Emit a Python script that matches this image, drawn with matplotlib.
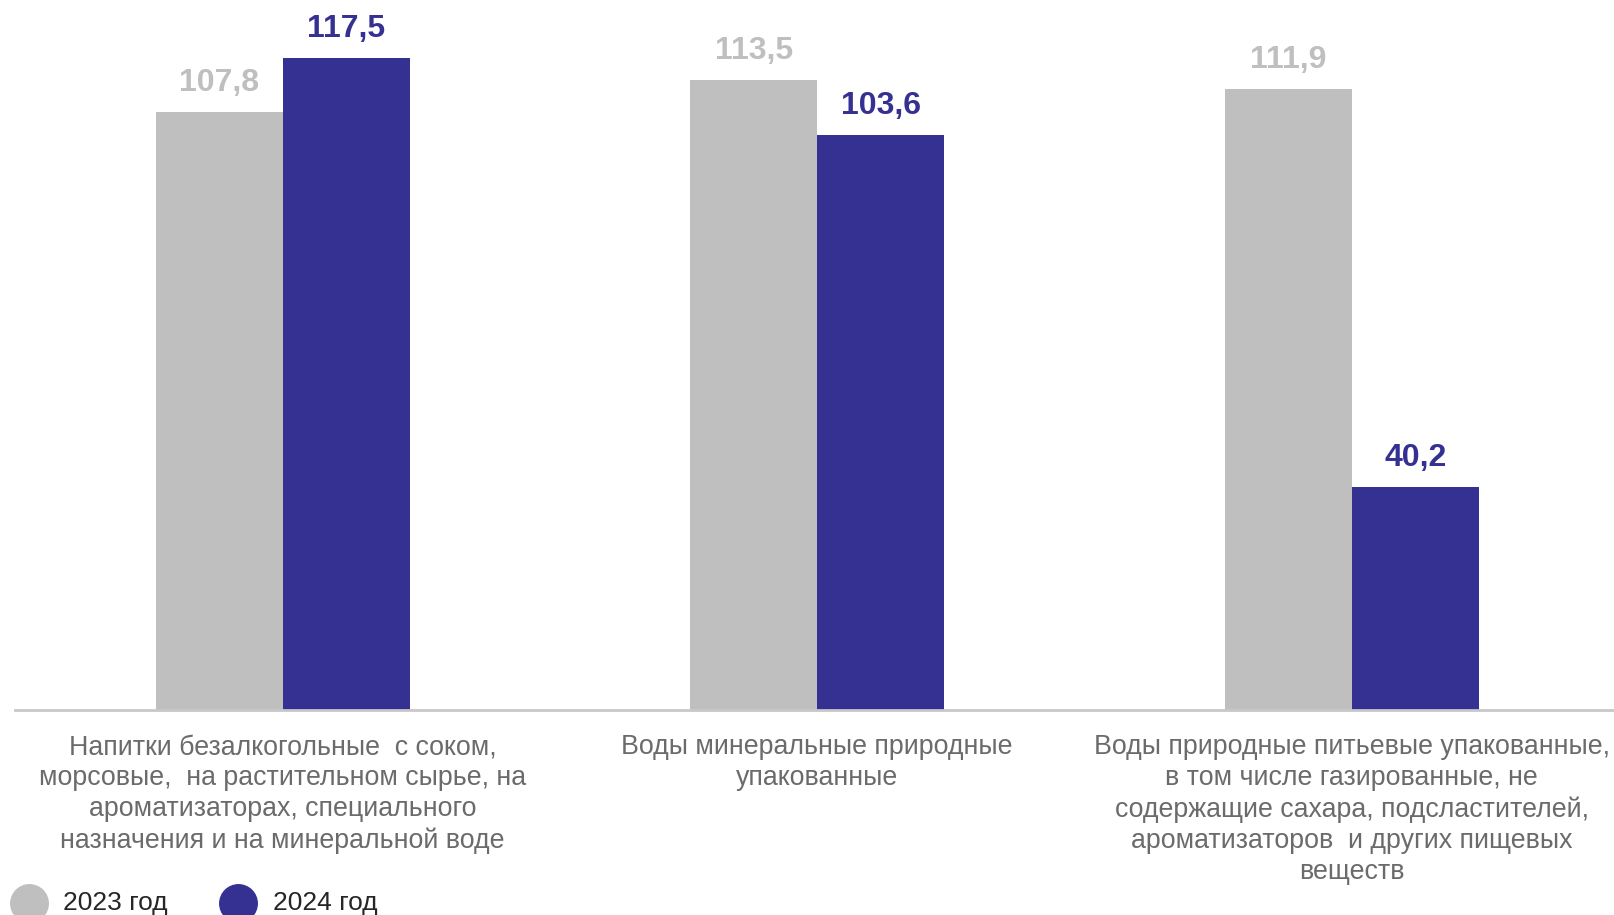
import numpy as np
import matplotlib.pyplot as plt

plt.rcParams['font.family'] = ['Liberation Sans', 'DejaVu Sans']

categories = [
    "Напитки безалкогольные  с соком,\nморсовые,  на растительном сырье, на\nароматизаторах, специального\nназначения и на минеральной воде",
    "Воды минеральные природные\nупакованные",
    "Воды природные питьевые упакованные,\nв том числе газированные, не\nсодержащие сахара, подсластителей,\nароматизаторов  и других пищевых\nвеществ",
]
values_2023 = [107.8, 113.5, 111.9]
values_2024 = [117.5, 103.6, 40.2]
series_names = ["2023 год", "2024 год"]

gray = "#bfbfbf"
blue = "#353193"

fig = plt.figure(figsize=(16.14, 9.15), dpi=100)
ax = fig.add_axes([0.0096, 0.2238, 0.9935, 0.7762])

x = np.arange(len(categories))
w = 0.2375
b1 = ax.bar(x - w / 2, values_2023, w, color=gray, label=series_names[0])
b2 = ax.bar(x + w / 2, values_2024, w, color=blue, label=series_names[1])

for bars, col in ((b1, gray), (b2, blue)):
    for r in bars:
        ax.annotate(("%.1f" % r.get_height()).replace(".", ","),
                    (r.get_x() + r.get_width() / 2, r.get_height()),
                    xytext=(0, 10), textcoords="offset points",
                    ha="center", va="bottom", fontsize=23, fontweight="bold", color=col)

ax.set_xlim(-0.5, 2.5)
ax.set_ylim(0, 127.9)
for s in ["top", "right", "left"]:
    ax.spines[s].set_visible(False)
ax.spines["bottom"].set_color("#c8c8c8")
ax.spines["bottom"].set_linewidth(2)
ax.set_yticks([])
ax.set_xticks([])

for i, lab in enumerate(categories):
    ax.text(i, -4.3, lab, ha="center", va="top", fontsize=19.3, color="#6b6b6b",
            linespacing=1.255)

# legend
for xc, xt, col, name in ((0.0178, 0.0389, gray, series_names[0]),
                          (0.1473, 0.1690, blue, series_names[1])):
    fig.add_artist(plt.Line2D([xc], [0.013], marker="o", markersize=27,
                              color=col, transform=fig.transFigure))
    fig.text(xt, 0.013, name, ha="left", va="center", fontsize=19, color="#262626")

fig.savefig("out.png", dpi=100)
